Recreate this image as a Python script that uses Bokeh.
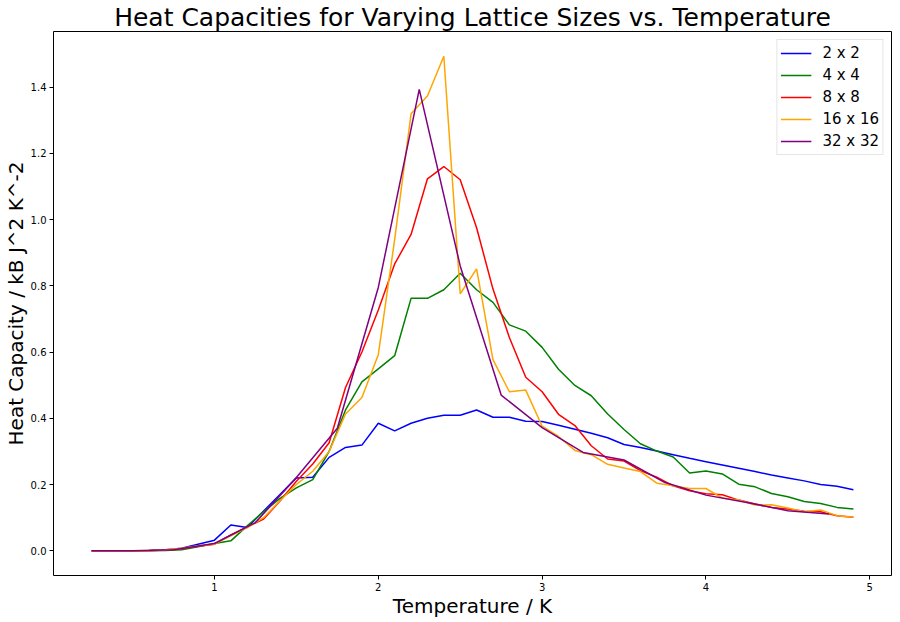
from bokeh.plotting import figure
from bokeh.models import Range1d, Legend, LegendItem, FixedTicker, PrintfTickFormatter, Title
from bokeh.embed import file_html
from bokeh.resources import INLINE

# ---- data ----
temps = [0.25, 0.3, 0.4, 0.5, 0.6, 0.7, 0.8, 0.9, 1.0, 1.1, 1.2, 1.3, 1.4, 1.5, 1.6,
         1.7, 1.8, 1.9, 2.0, 2.1, 2.2, 2.3, 2.4, 2.5, 2.6, 2.7, 2.8, 2.9, 3.0, 3.1,
         3.2, 3.3, 3.4, 3.5, 3.6, 3.7, 3.8, 3.9, 4.0, 4.1, 4.2, 4.3, 4.4, 4.5, 4.6,
         4.7, 4.8, 4.9]

heat_2x2 = [0.0, 0.0, 0.0, 0.0, 0.001, 0.003, 0.008, 0.020, 0.032, 0.078, 0.070, 0.120,
            0.170, 0.220, 0.222, 0.282, 0.312, 0.319, 0.385, 0.362, 0.385, 0.400, 0.409,
            0.409, 0.425, 0.403, 0.403, 0.391, 0.390, 0.379, 0.367, 0.355, 0.341, 0.321,
            0.312, 0.301, 0.290, 0.279, 0.269, 0.259, 0.249, 0.239, 0.229, 0.220, 0.211,
            0.200, 0.195, 0.184]

heat_4x4 = [0.0, 0.0, 0.0, 0.0, 0.0, 0.001, 0.003, 0.012, 0.022, 0.030, 0.075, 0.118,
            0.158, 0.190, 0.215, 0.300, 0.425, 0.510, 0.549, 0.589, 0.762, 0.762, 0.788,
            0.838, 0.788, 0.750, 0.682, 0.663, 0.614, 0.548, 0.499, 0.468, 0.413, 0.366,
            0.323, 0.301, 0.283, 0.235, 0.241, 0.232, 0.201, 0.193, 0.173, 0.163, 0.149,
            0.143, 0.131, 0.126]

heat_8x8 = [0.0, 0.0, 0.0, 0.0, 0.0, 0.002, 0.006, 0.014, 0.020, 0.048, 0.072, 0.096,
            0.150, 0.210, 0.262, 0.326, 0.493, 0.600, 0.727, 0.866, 0.955, 1.123, 1.160,
            1.120, 0.975, 0.790, 0.644, 0.524, 0.480, 0.412, 0.378, 0.317, 0.277, 0.271,
            0.242, 0.222, 0.196, 0.181, 0.172, 0.169, 0.153, 0.141, 0.131, 0.126, 0.119,
            0.118, 0.106, 0.101]

heat_16x16 = [0.0, 0.0, 0.0, 0.0, 0.0, 0.003, 0.008, 0.015, 0.020, 0.045, 0.070, 0.100,
              0.151, 0.200, 0.240, 0.300, 0.413, 0.463, 0.592, 0.940, 1.319, 1.373, 1.493,
              0.776, 0.851, 0.577, 0.480, 0.485, 0.376, 0.345, 0.303, 0.290, 0.261, 0.250,
              0.239, 0.204, 0.196, 0.188, 0.188, 0.159, 0.153, 0.138, 0.139, 0.129, 0.118,
              0.123, 0.106, 0.101]

temps_32 = [0.25, 0.5, 0.75, 1.0, 1.25, 1.5, 1.75, 2.0, 2.25, 2.5, 2.75, 3.0, 3.25,
            3.5, 3.75, 4.0, 4.25, 4.5, 4.75]
heat_32x32 = [0.0, 0.0, 0.003, 0.022, 0.085, 0.221, 0.370, 0.795, 1.393, 0.860, 0.470,
              0.372, 0.297, 0.274, 0.206, 0.168, 0.146, 0.121, 0.111]

series_labels = ["2 x 2", "4 x 4", "8 x 8", "16 x 16", "32 x 32"]
series_colors = ["blue", "green", "red", "orange", "purple"]

x_ticks = [1, 2, 3, 4, 5]
y_ticks = [0.0, 0.2, 0.4, 0.6, 0.8, 1.0, 1.2, 1.4]

title_text = "Heat Capacities for Varying Lattice Sizes vs. Temperature"
x_label = "Temperature / K"
y_label = "Heat Capacity / kB J^2 K^-2"

# ---- ranges with matplotlib-like 5% margins ----
all_x = temps + temps_32
all_y = heat_2x2 + heat_4x4 + heat_8x8 + heat_16x16 + heat_32x32
xmin, xmax = min(all_x), max(all_x)
ymin, ymax = min(all_y), max(all_y)
xpad = 0.05 * (xmax - xmin)
ypad = 0.05 * (ymax - ymin)

FONT = "DejaVu Sans"

p = figure(width=898, height=620, output_backend="svg", toolbar_location=None,
           x_range=Range1d(xmin - xpad, xmax + xpad),
           y_range=Range1d(ymin - ypad, ymax + ypad),
           min_border_left=53, min_border_right=7, min_border_top=31,
           min_border_bottom=45)

p.title = Title(text=title_text, align="center", text_font=FONT,
                text_font_size="25px", text_font_style="normal",
                text_color="black", standoff=0, offset=0)

p.xgrid.visible = False
p.ygrid.visible = False
p.outline_line_color = "black"
p.outline_line_width = 1
p.background_fill_color = "white"
p.border_fill_color = "white"

for ax, ticks, fmt in ((p.xaxis[0], x_ticks, "%d"), (p.yaxis[0], y_ticks, "%.1f")):
    ax.ticker = FixedTicker(ticks=ticks)
    ax.formatter = PrintfTickFormatter(format=fmt)
    ax.axis_line_color = None
    ax.major_tick_out = 4
    ax.major_tick_in = 0
    ax.minor_tick_out = 0
    ax.minor_tick_in = 0
    ax.major_tick_line_color = "black"
    ax.major_label_text_font = FONT
    ax.major_label_text_font_size = "10px"
    ax.major_label_text_color = "black"
    ax.major_label_standoff = 3
    ax.axis_label_text_font = FONT
    ax.axis_label_text_font_size = "20px"
    ax.axis_label_text_font_style = "normal"
    ax.axis_label_text_color = "black"
    ax.axis_label_standoff = 0

p.xaxis.axis_label = x_label
p.yaxis.axis_label = y_label

xs_list = [temps, temps, temps, temps, temps_32]
ys_list = [heat_2x2, heat_4x4, heat_8x8, heat_16x16, heat_32x32]

items = []
for xs, ys, lab, col in zip(xs_list, ys_list, series_labels, series_colors):
    r = p.line(xs, ys, line_color=col, line_width=1.5)
    items.append(LegendItem(label=lab, renderers=[r]))

legend = Legend(items=items, location="top_right",
                label_text_font=FONT, label_text_font_size="15px",
                label_text_color="black",
                glyph_width=31, glyph_height=20, label_height=20,
                spacing=2, padding=3, margin=8, label_standoff=11,
                border_line_color="#cccccc", border_line_width=1,
                background_fill_color="white", background_fill_alpha=0.8)
p.add_layout(legend)

open("out.html", "w").write(file_html(p, INLINE))
